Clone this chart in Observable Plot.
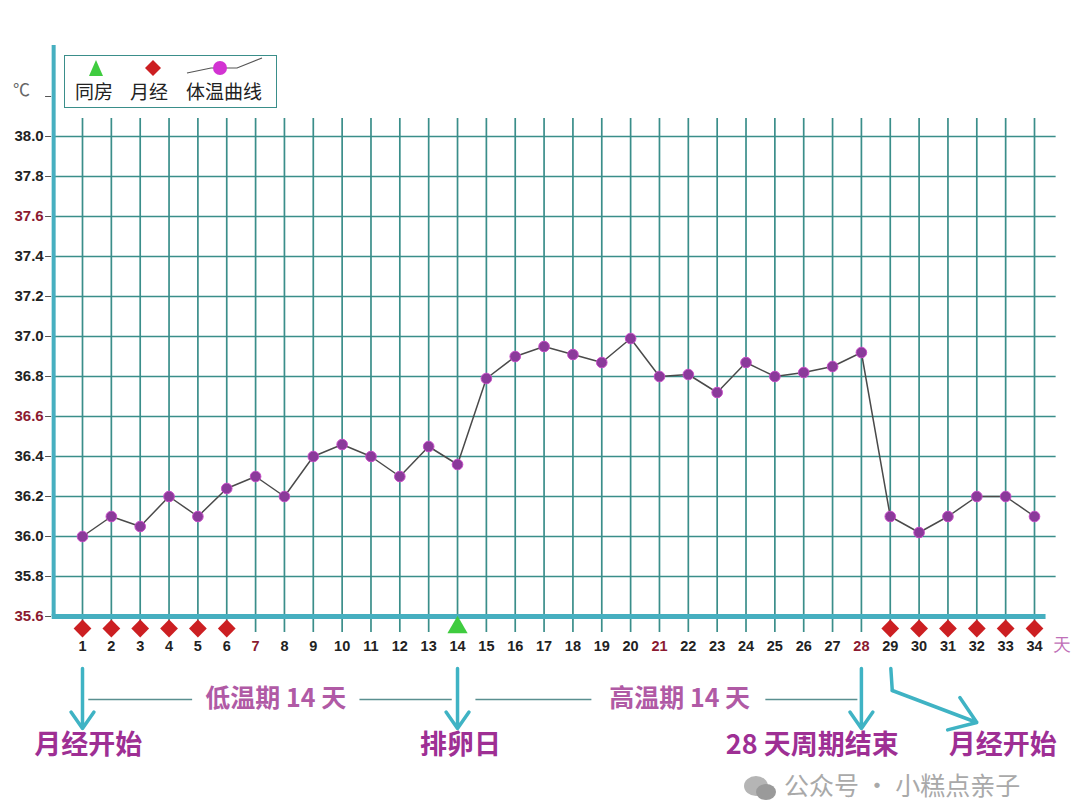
<!DOCTYPE html>
<html><head><meta charset="utf-8">
<script src="https://cdn.jsdelivr.net/npm/d3@7"></script>
<script src="https://cdn.jsdelivr.net/npm/@observablehq/plot@0.6"></script>
<style>
body{margin:0;background:#fff;}
#wrap{position:relative;width:1080px;height:809px;overflow:hidden;font-family:"Noto Sans CJK SC","Noto Sans",sans-serif;}
#legend{position:absolute;left:64px;top:55px;width:211px;height:51px;border:1.5px solid #3a8e8a;background:#fff;}
#legend svg{position:absolute;left:0;top:0;}
#legend span{position:absolute;top:24px;font-size:19px;color:#222;line-height:22px;}
#unit{position:absolute;left:13px;top:76px;font-size:17px;color:#666;}
#wm{position:absolute;left:742px;top:770px;font-size:25px;line-height:28px;color:#a9a9a9;white-space:nowrap;}
</style></head>
<body><div id="wrap"></div>
<script>
// ---- data ----
const days = d3.range(1, 35);
const temps = [36.0,36.1,36.05,36.2,36.1,36.24,36.3,36.2,36.4,36.46,36.4,36.3,36.45,36.36,
  36.79,36.9,36.95,36.91,36.87,36.99,36.8,36.81,36.72,36.87,36.8,36.82,36.85,36.92,
  36.1,36.02,36.1,36.2,36.2,36.1];
const periodDays = [1,2,3,4,5,6,29,30,31,32,33,34];
const intercourseDays = [14];
const yTicks = [35.6,35.8,36.0,36.2,36.4,36.6,36.8,37.0,37.2,37.4,37.6,37.8,38.0];
const redYTicks = [35.6,36.6,37.6];
const redXTicks = [7,21,28];
const arrowDays = [1,14,28];
const bottomLabels = [
  {day:1.2, text:"月经开始"},
  {day:14.1, text:"排卵日"},
  {day:26.3, text:"28 天周期结束"},
  {day:32.9, text:"月经开始"}
];
const phaseLabels = [
  {day:7.7, text:"低温期 14 天"},
  {day:21.7, text:"高温期 14 天"}
];
const phaseLines = [
  {x1:1.2, x2:4.8}, {x1:10.6, x2:13.8}, {x1:14.62, x2:18.64}, {x1:24.67, x2:27.86}
];

const data = days.map((d,i)=>({day:d, t:temps[i]}));
const grid = "#3a8e8a";
const axisC = "#46afc0";
const arrowC = "#3fb3c4";
const annoC = "#9e2f94";
const numFont = "Liberation Sans, Arial, sans-serif";

const chart = Plot.plot({
  width:1080, height:809,
  marginLeft:82, marginRight:46, marginTop:136, marginBottom:193,
  x:{type:"linear", domain:[1,34], axis:null},
  y:{type:"linear", domain:[35.6,38.0], axis:null},
  style:{background:"transparent", overflow:"visible"},
  marks:[
    // vertical grid
    Plot.ruleX(days, {x:d=>d, y1:35.52, y2:38.09, stroke:grid, strokeWidth:1.7}),
    // horizontal grid
    Plot.ruleY(yTicks.filter(v=>v>35.6), {y:d=>d, x1:0, x2:34.75, stroke:grid, strokeWidth:1.7}),
    // axes
    Plot.ruleX([0], {y1:35.6, y2:38.455, stroke:axisC, strokeWidth:4}),
    Plot.ruleY([35.6], {x1:-0.05, x2:34.4, stroke:axisC, strokeWidth:5}),
    // y ticks
    Plot.ruleY(yTicks.concat([38.2]), {y:d=>d, x1:-0.28, x2:-0.07, stroke:"#555", strokeWidth:1}),
    Plot.text(yTicks.filter(v=>!redYTicks.includes(v)), {x:0, y:d=>d, text:d=>d.toFixed(1), dx:-10, textAnchor:"end", fontSize:15, fontWeight:"bold", fill:"#222", fontFamily:numFont}),
    Plot.text(redYTicks, {x:0, y:d=>d, text:d=>d.toFixed(1), dx:-10, textAnchor:"end", fontSize:15, fontWeight:"bold", fill:"#8b1a30", fontFamily:numFont}),
    // x labels
    Plot.text(days.filter(d=>!redXTicks.includes(d)), {x:d=>d, y:35.6, dy:30, text:d=>String(d), fontSize:14.5, fontWeight:"bold", fill:"#222", fontFamily:numFont}),
    Plot.text(redXTicks, {x:d=>d, y:35.6, dy:30, text:d=>String(d), fontSize:14.5, fontWeight:"bold", fill:"#8b1a30", fontFamily:numFont}),
    Plot.text(["天"], {x:34, y:35.6, dx:27, dy:29, text:d=>d, fontSize:18, fill:"#c070b8"}),
    // markers under axis
    Plot.dot(periodDays, {x:d=>d, y:35.6, dy:12, symbol:"diamond2", r:8, fill:"#cc1f22"}),
    Plot.dot(intercourseDays, {x:d=>d, y:35.6, dy:11, symbol:"triangle", r:7.5, fill:"#3fcc3f"}),
    // temperature curve
    Plot.line(data, {x:"day", y:"t", stroke:"#4a4a4a", strokeWidth:1.5}),
    Plot.dot(data, {x:"day", y:"t", r:5.3, fill:"#8a3a9a", stroke:"#c64bc6", strokeWidth:1}),
    // annotations: arrows
    Plot.arrow(arrowDays, {x1:d=>d, x2:d=>d, y1:35.34, y2:35.04, stroke:arrowC, strokeWidth:3.5, headLength:16, headAngle:70}),
    Plot.line([{x:29.02,y:35.34},{x:29.07,y:35.23}], {x:"x", y:"y", stroke:arrowC, strokeWidth:3.5}),
    Plot.arrow([0], {x1:29.07, y1:35.23, x2:32.0, y2:35.07, stroke:arrowC, strokeWidth:3.5, headLength:16, headAngle:70}),
    // phase lines and labels
    Plot.link(phaseLines, {x1:"x1", x2:"x2", y1:35.185, y2:35.185, stroke:"#5a8f90", strokeWidth:1.5}),
    Plot.text(phaseLabels, {x:"day", y:35.19, text:"text", fontSize:25, fontWeight:"bold", fill:"#b05aa5", fontFamily:"Noto Sans CJK SC"}),
    Plot.text(bottomLabels, {x:"day", y:34.955, text:"text", fontSize:27, fontWeight:"bold", fill:annoC, fontFamily:"Noto Sans CJK SC"})
  ]
});

const wrap = document.getElementById("wrap");
chart.style.position = "absolute"; chart.style.left = "0"; chart.style.top = "0";
wrap.appendChild(chart);

const unit = document.createElement("div"); unit.id = "unit"; unit.textContent = "℃"; wrap.appendChild(unit);

const legend = document.createElement("div"); legend.id = "legend";
legend.innerHTML = `<svg width="211" height="51">
  <path d="M31,4 L38,20 L24,20 Z" fill="#3fcc3f"/>
  <path d="M88,4 L96,12 L88,20 L80,12 Z" fill="#cc1f22"/>
  <polyline points="122,17 146,12 172,12 197,2" fill="none" stroke="#555" stroke-width="1.2"/>
  <circle cx="155" cy="12" r="7" fill="#d233d2"/>
</svg>
<span style="left:10px">同房</span><span style="left:65px">月经</span><span style="left:121px">体温曲线</span>`;
wrap.appendChild(legend);

const wm = document.createElement("div"); wm.id = "wm";
wm.innerHTML = `<svg width="36" height="28" style="vertical-align:middle;margin-right:6px"><ellipse cx="14" cy="12" rx="12" ry="10" fill="#b5b5b5"/><ellipse cx="24" cy="18" rx="10" ry="8" fill="#9a9a9a"/></svg>公众号 · 小糕点亲子`;
wrap.appendChild(wm);
</script></body></html>
